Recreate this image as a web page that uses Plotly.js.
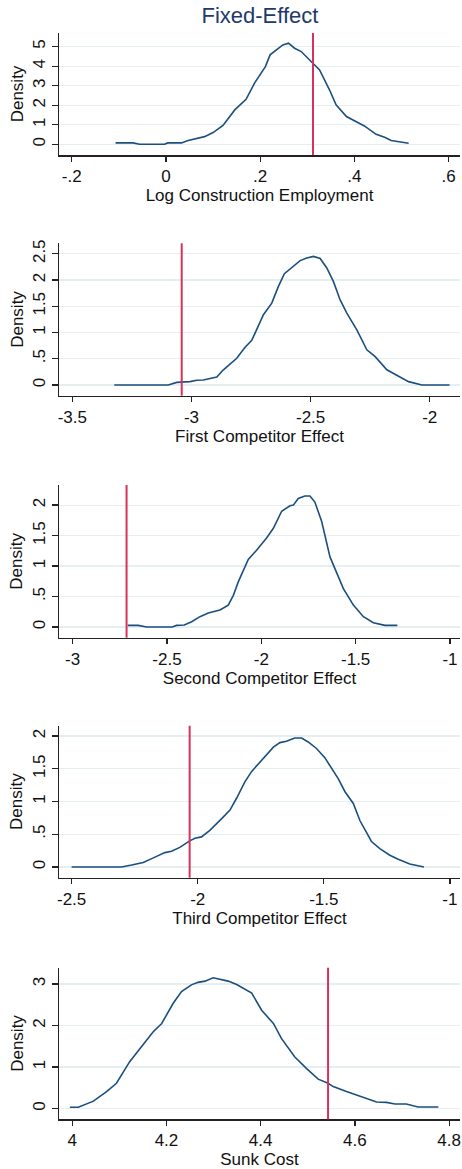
<!DOCTYPE html>
<html>
<head>
<meta charset="utf-8">
<script src="https://cdn.plot.ly/plotly-3.0.1.min.js"></script>
<style>html,body{margin:0;padding:0;background:#fff;}#chart{width:462px;height:1169px;}</style>
</head>
<body>
<div id="chart"></div>
<script>
// ---------- data ----------
const titles = ["Log Construction Employment","First Competitor Effect","Second Competitor Effect","Third Competitor Effect","Sunk Cost"];

const x1 = [-0.107,-0.07,-0.056,-0.003,0.004,0.033,0.047,0.082,0.1,0.121,0.146,0.17,0.188,0.211,0.221,0.238,0.248,0.26,0.273,0.287,0.312,0.326,0.347,0.361,0.383,0.404,0.421,0.446,0.464,0.478,0.499,0.515];
const y1 = [0.07,0.07,0,0,0.07,0.07,0.19,0.39,0.6,0.96,1.76,2.3,3.13,3.98,4.58,4.92,5.09,5.18,4.92,4.75,4.15,3.81,2.79,2.02,1.42,1.16,0.94,0.51,0.36,0.19,0.12,0.05];

const x2 = [-3.324,-3.097,-3.062,-3.006,-2.978,-2.95,-2.894,-2.866,-2.81,-2.775,-2.747,-2.698,-2.663,-2.635,-2.61,-2.572,-2.544,-2.516,-2.488,-2.46,-2.432,-2.404,-2.376,-2.348,-2.306,-2.264,-2.229,-2.18,-2.131,-2.089,-2.033,-1.917];
const y2 = [0,0,0.05,0.064,0.09,0.095,0.15,0.29,0.51,0.72,0.85,1.34,1.56,1.88,2.12,2.26,2.37,2.42,2.45,2.41,2.23,1.97,1.62,1.37,1.05,0.67,0.54,0.29,0.16,0.064,0,0];

const x3 = [-2.708,-2.652,-2.608,-2.472,-2.449,-2.408,-2.369,-2.325,-2.281,-2.219,-2.175,-2.148,-2.122,-2.069,-2.025,-1.972,-1.936,-1.892,-1.848,-1.83,-1.804,-1.769,-1.742,-1.716,-1.68,-1.636,-1.565,-1.512,-1.459,-1.406,-1.345,-1.279];
const y3 = [0.027,0.027,0,0,0.027,0.033,0.087,0.17,0.23,0.28,0.36,0.52,0.74,1.11,1.26,1.46,1.62,1.9,1.99,2.0,2.11,2.15,2.15,2.05,1.73,1.15,0.63,0.36,0.17,0.071,0.027,0.027];

const x4 = [-2.5,-2.302,-2.262,-2.216,-2.176,-2.13,-2.104,-2.071,-2.032,-2.011,-1.985,-1.952,-1.905,-1.872,-1.846,-1.813,-1.786,-1.74,-1.70,-1.674,-1.648,-1.615,-1.588,-1.562,-1.529,-1.496,-1.443,-1.416,-1.383,-1.357,-1.311,-1.278,-1.238,-1.205,-1.159,-1.103];
const y4 = [0,0,0.03,0.07,0.14,0.22,0.24,0.30,0.40,0.44,0.46,0.56,0.74,0.87,1.05,1.30,1.46,1.66,1.83,1.90,1.92,1.97,1.97,1.91,1.81,1.67,1.35,1.15,0.97,0.71,0.39,0.28,0.18,0.12,0.046,0];

const x5 = [3.995,4.013,4.045,4.073,4.094,4.122,4.144,4.172,4.19,4.214,4.232,4.253,4.267,4.282,4.299,4.313,4.331,4.349,4.381,4.402,4.427,4.444,4.472,4.497,4.522,4.543,4.554,4.582,4.603,4.646,4.667,4.685,4.709,4.734,4.777];
const y5 = [0.032,0.032,0.18,0.41,0.61,1.13,1.45,1.85,2.05,2.53,2.82,2.98,3.04,3.07,3.15,3.11,3.07,2.99,2.78,2.37,2.05,1.69,1.25,0.97,0.71,0.61,0.53,0.41,0.33,0.16,0.15,0.11,0.11,0.04,0.04];

const refLines = [0.312, -3.041, -2.714, -2.032, 4.543];

const xTickVals = [[-0.2,0,0.2,0.4,0.6],[-3.5,-3,-2.5,-2],[-3,-2.5,-2,-1.5,-1],[-2.5,-2,-1.5,-1],[4,4.2,4.4,4.6,4.8]];
const xTickText = [["-.2","0",".2",".4",".6"],["-3.5","-3","-2.5","-2"],["-3","-2.5","-2","-1.5","-1"],["-2.5","-2","-1.5","-1"],["4","4.2","4.4","4.6","4.8"]];
const yTickVals = [[0,1,2,3,4,5],[0,0.5,1,1.5,2,2.5],[0,0.5,1,1.5,2],[0,0.5,1,1.5,2],[0,1,2,3]];
const yTickText = [["0","1","2","3","4","5"],["0",".5","1","1.5","2","2.5"],["0",".5","1","1.5","2"],["0",".5","1","1.5","2"],["0","1","2","3"]];

// ---------- layout helpers ----------
const W = 462, H = 1169;
const xRanges = [[-0.227,0.624],[-3.556,-1.873],[-3.072,-0.947],[-2.55,-0.96],[3.972,4.823]];
const yRanges = [[-0.55,5.70],[-0.204,2.70],[-0.175,2.33],[-0.163,2.158],[-0.257,3.393]];
const panelPx = [[33,155],[243.3,395.7],[485,637.7],[725.7,877.7],[967.7,1119.3]];
const xs = [x1,x2,x3,x4,x5], ys = [y1,y2,y3,y4,y5];

const FONT = "Liberation Sans, Arial, sans-serif";
const traces = [], shapes = [];
const layout = {
  width: W, height: H,
  margin: {l:0, r:0, t:0, b:0},
  paper_bgcolor: "#fff", plot_bgcolor: "#fff",
  showlegend: false,
  font: {family: FONT, color: "#111", size: 17},
  title: {text: "Fixed-Effect", font: {family: FONT, size: 22, color: "#1e3a6b"}, x: 260/W, xanchor: "center", y: 1 - 15/H, yanchor: "middle", xref: "paper", yref: "paper"},
  shapes: shapes
};

for (let i = 0; i < 5; i++) {
  const n = i === 0 ? "" : String(i + 1);
  traces.push({
    type: "scatter", mode: "lines", x: xs[i], y: ys[i],
    xaxis: "x" + n, yaxis: "y" + n,
    line: {color: "#1a4f7f", width: 1.6},
    hoverinfo: "skip"
  });
  shapes.push({
    type: "line", xref: "x" + n, yref: "y" + n + " domain",
    x0: refLines[i], x1: refLines[i], y0: 0, y1: 1,
    line: {color: "#d6325a", width: 2}
  });
  const [top, bot] = panelPx[i];
  layout["xaxis" + n] = {
    domain: [59/W, 460/W], anchor: "y" + n,
    range: xRanges[i], tickvals: xTickVals[i], ticktext: xTickText[i],
    showgrid: false, zeroline: false,
    showline: true, linecolor: "#222", linewidth: 1.5,
    ticks: "outside", ticklen: 5, tickwidth: 1.3, tickcolor: "#222",
    tickfont: {size: 17, family: FONT, color: "#111"},
    title: {text: titles[i], font: {size: 17, family: FONT, color: "#111"}, standoff: 1}
  };
  layout["yaxis" + n] = {
    domain: [1 - bot/H, 1 - top/H], anchor: "x" + n,
    range: yRanges[i], tickvals: yTickVals[i], ticktext: yTickText[i],
    tickangle: -90,
    showgrid: true, gridcolor: "#e6eff0", gridwidth: 1.2, zeroline: false,
    showline: true, linecolor: "#222", linewidth: 1.5,
    ticks: "outside", ticklen: 6, tickwidth: 1.3, tickcolor: "#222",
    tickfont: {size: 17, family: FONT, color: "#111"},
    title: {text: "Density", font: {size: 17, family: FONT, color: "#111"}, standoff: 2}
  };
}

Plotly.newPlot("chart", traces, layout, {staticPlot: true, displayModeBar: false});
</script>
</body>
</html>
